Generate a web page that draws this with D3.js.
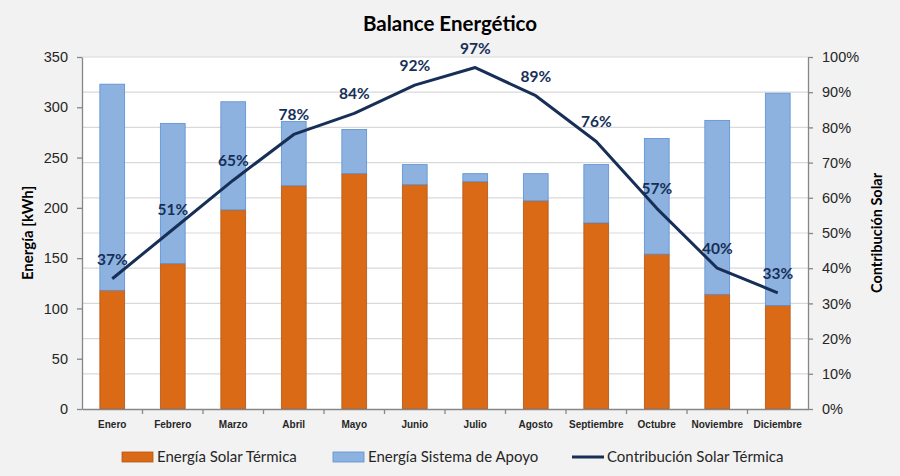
<!DOCTYPE html>
<html>
<head>
<meta charset="utf-8">
<script src="https://cdn.jsdelivr.net/npm/d3@7"></script>
<style>
  body { margin: 0; background: #f2f2f2; }
  svg { font-family: Lato, "Open Sans", sans-serif; }
</style>
</head>
<body>
<div id="chart"></div>
<script>
const months = ["Enero", "Febrero", "Marzo", "Abril", "Mayo", "Junio", "Julio", "Agosto", "Septiembre", "Octubre", "Noviembre", "Diciembre"];
const solar = [118, 144.5, 198, 222, 234, 223, 226, 207, 185, 154, 114, 103];
const apoyo = [205, 139.5, 107.5, 64, 44, 20, 8, 27, 58, 115, 173, 211];
const contribucion = [0.37, 0.51, 0.65, 0.78, 0.84, 0.92, 0.97, 0.89, 0.76, 0.57, 0.40, 0.33];
const energyTicks = [0, 50, 100, 150, 200, 250, 300, 350];
const pctTicks = [0, 0.1, 0.2, 0.3, 0.4, 0.5, 0.6, 0.7, 0.8, 0.9, 1.0];

const width = 900;
const height = 476;
const margin = { top: 57, right: 92, bottom: 67, left: 82 };
const chartWidth = width - margin.left - margin.right;
const chartHeight = height - margin.top - margin.bottom;

const orange = "#da6a15", orangeStroke = "#b2561a";
const blue = "#8db2df", blueStroke = "#5b8fd2";
const navy = "#172f57";
const axisGray = "#868686";

const data = months.map((m, i) => ({ month: m, solar: solar[i], apoyo: apoyo[i], pct: contribucion[i] }));

const svg = d3.select("#chart")
  .append("svg")
  .attr("width", width)
  .attr("height", height);

svg.append("rect").attr("width", width).attr("height", height).attr("fill", "#f2f2f2");

const g = svg.append("g")
  .attr("transform", `translate(${margin.left},${margin.top})`);

const x = d3.scaleBand().domain(months).range([0, chartWidth]).paddingInner(0.59).paddingOuter(0.295);
const xEdge = d3.scaleBand().domain(months).range([0, chartWidth]);
const y = d3.scaleLinear().domain([0, 350]).range([chartHeight, 0]);
const y2 = d3.scaleLinear().domain([0, 1]).range([chartHeight, 0]);

// plot area
g.append("rect")
  .attr("width", chartWidth)
  .attr("height", chartHeight)
  .attr("fill", "#ffffff");

// gridlines from the right axis
g.append("g")
  .selectAll("line")
  .data(pctTicks.slice(1))
  .join("line")
  .attr("x1", 0)
  .attr("x2", chartWidth)
  .attr("y1", d => y2(d))
  .attr("y2", d => y2(d))
  .attr("stroke", "#d9d9d9")
  .attr("stroke-width", 1.2);

// stacked bars
const bars = g.append("g");
bars.selectAll("rect.solar")
  .data(data)
  .join("rect")
  .attr("class", "solar")
  .attr("x", d => x(d.month))
  .attr("width", x.bandwidth())
  .attr("y", d => y(d.solar))
  .attr("height", d => chartHeight - y(d.solar))
  .attr("fill", orange)
  .attr("stroke", orangeStroke)
  .attr("stroke-width", 0.8);

bars.selectAll("rect.apoyo")
  .data(data)
  .join("rect")
  .attr("class", "apoyo")
  .attr("x", d => x(d.month))
  .attr("width", x.bandwidth())
  .attr("y", d => y(d.solar + d.apoyo))
  .attr("height", d => y(d.solar) - y(d.solar + d.apoyo))
  .attr("fill", blue)
  .attr("stroke", blueStroke)
  .attr("stroke-width", 0.8);

// axes
const styleAxis = sel => {
  sel.selectAll(".domain").attr("stroke", axisGray).attr("stroke-width", 1.3);
  sel.selectAll(".tick line").attr("stroke", axisGray).attr("stroke-width", 1.3);
  sel.selectAll("text").attr("fill", "#262626");
};

g.append("g")
  .call(d3.axisLeft(y).tickValues(energyTicks).tickSize(5).tickSizeOuter(0).tickPadding(9))
  .call(styleAxis)
  .selectAll("text")
  .style("font-size", "14.5px");

g.append("g")
  .attr("transform", `translate(${chartWidth},0)`)
  .call(d3.axisRight(y2).tickValues(pctTicks).tickSize(5).tickSizeOuter(0).tickPadding(9).tickFormat(d3.format(".0%")))
  .call(styleAxis)
  .selectAll("text")
  .style("font-size", "14.5px");

const xAxis = g.append("g")
  .attr("transform", `translate(0,${chartHeight})`)
  .call(d3.axisBottom(xEdge).tickSize(0).tickSizeOuter(0).tickPadding(12))
  .call(styleAxis);
xAxis.selectAll("text")
  .style("font-size", "10px")
  .style("font-weight", "bold");

// category boundary ticks
xAxis.append("g")
  .selectAll("line")
  .data(months.slice(1))
  .join("line")
  .attr("x1", d => xEdge(d))
  .attr("x2", d => xEdge(d))
  .attr("y1", 0)
  .attr("y2", 5)
  .attr("stroke", axisGray)
  .attr("stroke-width", 1.3);

// line series
const line = d3.line()
  .x(d => x(d.month) + x.bandwidth() / 2)
  .y(d => y2(d.pct));

g.append("path")
  .datum(data)
  .attr("d", line)
  .attr("fill", "none")
  .attr("stroke", navy)
  .attr("stroke-width", 3)
  .attr("stroke-linejoin", "round");

g.append("g")
  .selectAll("text")
  .data(data)
  .join("text")
  .attr("x", d => x(d.month) + x.bandwidth() / 2)
  .attr("y", d => y2(d.pct) - 14)
  .attr("text-anchor", "middle")
  .attr("fill", navy)
  .style("font-size", "15.5px")
  .style("font-weight", "bold")
  .text(d => d3.format(".0%")(d.pct));

// titles
svg.append("text")
  .attr("x", width / 2)
  .attr("y", 31)
  .attr("text-anchor", "middle")
  .attr("fill", "#000")
  .style("font-size", "20.5px")
  .style("font-weight", "bold")
  .text("Balance Energético");

svg.append("text")
  .attr("transform", `translate(33,${margin.top + chartHeight / 2}) rotate(-90)`)
  .attr("text-anchor", "middle")
  .attr("fill", "#000")
  .style("font-size", "15px")
  .style("font-weight", "bold")
  .text("Energía [kWh]");

svg.append("text")
  .attr("transform", `translate(882,${margin.top + chartHeight / 2}) rotate(-90)`)
  .attr("text-anchor", "middle")
  .attr("fill", "#000")
  .style("font-size", "14.5px")
  .style("font-weight", "bold")
  .text("Contribución Solar");

// legend
const legend = svg.append("g").attr("transform", "translate(0,457)");
const legendItems = [
  { label: "Energía Solar Térmica", type: "rect", fill: orange, stroke: orangeStroke, x: 122 },
  { label: "Energía Sistema de Apoyo", type: "rect", fill: blue, stroke: blueStroke, x: 333 },
  { label: "Contribución Solar Térmica", type: "line", fill: navy, x: 572 }
];
legendItems.forEach(item => {
  if (item.type === "rect") {
    legend.append("rect")
      .attr("x", item.x).attr("y", -5)
      .attr("width", 31).attr("height", 10)
      .attr("fill", item.fill).attr("stroke", item.stroke).attr("stroke-width", 0.8);
  } else {
    legend.append("line")
      .attr("x1", item.x).attr("x2", item.x + 32)
      .attr("y1", 0).attr("y2", 0)
      .attr("stroke", item.fill).attr("stroke-width", 3);
  }
  legend.append("text")
    .attr("x", item.x + 35)
    .attr("y", 5)
    .attr("fill", "#262626")
    .style("font-size", "15px")
    .text(item.label);
});
</script>
</body>
</html>
